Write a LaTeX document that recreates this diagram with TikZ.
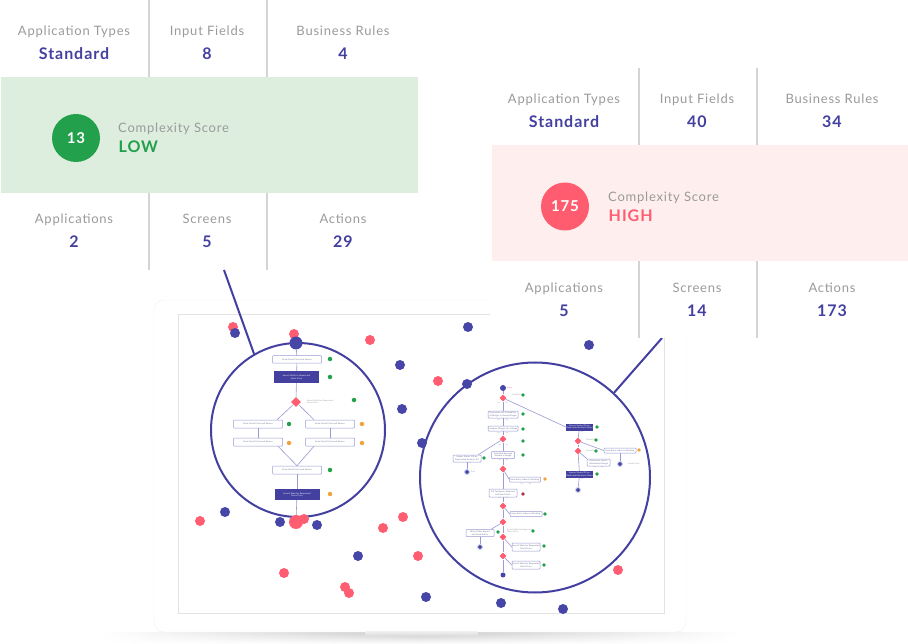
\documentclass[tikz,border=0pt]{standalone}
\usepackage{fontspec}
\setmainfont{Lato}[LetterSpace=6]
\usetikzlibrary{shapes.geometric,fadings}
\definecolor{navy}{HTML}{4340A0}
\definecolor{txtgray}{HTML}{9A9A9A}
\definecolor{divgray}{HTML}{D4D4D4}
\definecolor{okgreen}{HTML}{22A04B}
\definecolor{greenbg}{HTML}{DDEEDF}
\definecolor{hotred}{HTML}{FF5C70}
\definecolor{pinkbg}{HTML}{FFEEEE}
\definecolor{dotred}{HTML}{FF5D72}
\definecolor{dotblue}{HTML}{4646A8}
\definecolor{flowline}{HTML}{9A9AD4}
\definecolor{warnorange}{HTML}{F2A23A}
\definecolor{darkred}{HTML}{B03040}
\begin{document}
\begin{tikzpicture}[x=1pt,y=-1pt,
  lbl/.style={font=\fontsize{13}{13}\selectfont, text=txtgray, inner sep=0, anchor=base},
  val/.style={font=\fontsize{16}{16}\selectfont\bfseries, text=navy, inner sep=0, anchor=base},
  divider/.style={draw=divgray, line width=1.2},
  scorecirc/.style={circle, minimum size=48, inner sep=0, font=\fontsize{15}{15}\selectfont\bfseries, text=white},
  rdot/.style={circle, fill=dotred, minimum size=10, inner sep=0},
  bdot/.style={circle, fill=dotblue, minimum size=10, inner sep=0},
  lens/.style={circle, draw=navy, line width=2, fill=white, inner sep=0},
  pinline/.style={draw=navy, line width=2},
  fbox/.style={draw=flowline, line width=0.5, fill=white, rounded corners=0.8, inner sep=0, font=\fontsize{2.1}{2.5}\selectfont, text=flowline!70!black, align=center},
  fboxf/.style={fill=navy, inner sep=0, font=\fontsize{2.1}{2.5}\selectfont, text=white, align=center},
  fdia/.style={diamond, fill=hotred, minimum size=7, inner sep=0},
  gdot/.style={circle, fill=okgreen, minimum size=3.6, inner sep=0},
  odot/.style={circle, fill=warnorange, minimum size=3.6, inner sep=0},
  ddot/.style={circle, fill=darkred, minimum size=3.6, inner sep=0},
  enddot/.style={circle, fill=dotblue, draw=flowline!45, line width=0.9, minimum size=5, inner sep=0},
  flow/.style={draw=flowline, line width=0.6},
  tinytxt/.style={font=\fontsize{2}{2.4}\selectfont, text=txtgray, inner sep=0, align=left},
  yn/.style={font=\fontsize{1.6}{1.8}\selectfont, text=txtgray, inner sep=0}
]
\useasboundingbox (0,0) rectangle (908,644);

% ---------- laptop ----------
\shade[left color=white, right color=white, middle color=black!22, path fading=south] (100,632) rectangle (740,644);
\draw[draw=black!6, fill=white, rounded corners=10] (154,300) rectangle (686,632);
\shade[top color=black!6, bottom color=black!14, rounded corners=1.5] (365,631) rectangle (478,636);
\draw[draw=black!11, line width=0.8] (178,314) rectangle (664,613);

% ---------- lenses ----------
\node[lens, minimum size=174] (lensL) at (298,430) {};
\node[lens, minimum size=230] (lensR) at (535,477.5) {};

% ---------- scattered dots ----------
\foreach \p [count=\i] in {(233,327),(294,334),(370,340),(438,381),(200,521),(304,519),(403,517),(383,528),(418,556),(284,573),(345,587),(349,593),(618,570)}
  \node[rdot] (red\i) at \p {};
\foreach \p [count=\i] in {(235,333),(468,327),(400,365),(589,345),(402,409),(467,384),(422,443),(225,512),(280,522),(317,525),(358,556),(426,597),(501,603),(563,609)}
  \node[bdot] (blue\i) at \p {};

% ---------- left lens flowchart ----------
\node[bdot, minimum size=13] (Ls) at (296,343) {};
\node[fbox, minimum width=49, minimum height=7.5] (L1) at (297,359.5) {Enter Stock Price and Source};
\node[fboxf, minimum width=45, minimum height=12] (L2) at (296.5,377) {Search Web for Requested\\Stock Price};
\node[fdia, minimum size=10] (Ld) at (296,402) {};
\node[tinytxt, anchor=west] (Ldl) at (307,402) {Search Web for Requested\\Stock Price};
\node[fbox, minimum width=49, minimum height=8] (L3a) at (258,424) {Enter Stock Price and Source};
\node[fbox, minimum width=49, minimum height=8] (L3b) at (330,424) {Enter Stock Price and Source};
\node[fbox, minimum width=49, minimum height=8] (L4a) at (258,442) {Enter Stock Price and Source};
\node[fbox, minimum width=49, minimum height=8] (L4b) at (330,442) {Enter Stock Price and Source};
\node[fbox, minimum width=49, minimum height=8] (L5) at (297,470) {Enter Stock Price and Source};
\node[fboxf, minimum width=45, minimum height=11] (L6) at (297,494.5) {Search Web for Requested\\Stock Price};
\node[rdot, minimum size=14] (Le) at (296,522) {};
\node[gdot, minimum size=4.5] (Lg1) at (330,359) {};
\node[gdot, minimum size=4.5] (Lg2) at (330,377) {};
\node[gdot, minimum size=4.5] (Lg3) at (354,400) {};
\node[gdot, minimum size=4.5] (Lg4) at (289,424) {};
\node[odot, minimum size=4.5] (Lo1) at (362,424) {};
\node[odot, minimum size=4.5] (Lo2) at (289,443) {};
\node[odot, minimum size=4.5] (Lo3) at (362,443) {};
\node[gdot, minimum size=4.5] (Lg5) at (330,470) {};
\node[odot, minimum size=4.5] (Lo4) at (330,494) {};
\draw[flow] (Ls) -- (L1);
\draw[flow] (L1) -- (L2);
\draw[flow] (L2) -- (Ld);
\draw[flow] (Ld) -- ([xshift=19pt]L3a.north);
\draw[flow] (Ld) -- ([xshift=-16pt]L3b.north);
\draw[flow] (L3a) -- (L4a);
\draw[flow] (L3b) -- (L4b);
\draw[flow] ([xshift=20pt]L4a.south) -- (L5.north);
\draw[flow] ([xshift=-16pt]L4b.south) -- (L5.north);
\draw[flow] (L5) -- (L6);
\draw[flow] (L6) -- (Le);

% ---------- right lens flowchart ----------
\node[bdot, minimum size=6] (Rs) at (503,388) {};
\node[font=\fontsize{2}{2.4}\selectfont, text=hotred, inner sep=0, anchor=west] (Rsl) at (507,388) {Start};
\node[fdia] (Rd1) at (503,398) {};
\node[tinytxt, anchor=west] (Rd1l) at (512,395) {Grade Price};
\node[gdot] (Rg1) at (523,395) {};
\node[yn] (Rd1y) at (499,402.5) {Yes};
\node[yn] (Rd1n) at (507,402.5) {No};
\node[fbox, minimum width=30, minimum height=7] (Rb1) at (503,414.5) {Determine the Probability\\of Margin in Accept Range};
\node[gdot] (Rg2) at (523,414) {};
\node[yn] (Rb1y) at (498.5,420) {Yes};
\node[yn] (Rb1n) at (507,420) {No};
\node[fbox, minimum width=30, minimum height=5] (Rb2) at (503,428.5) {Compare Margin for a Range};
\node[gdot] (Rg3) at (523,429) {};
\node[yn] (Rb2y) at (498.5,433) {Yes};
\node[yn] (Rb2n) at (507,433) {No};
\node[fdia] (Rd2) at (503,439) {};
\node[gdot] (Rg4) at (523,441) {};
\node[yn] (Rd2y) at (500,445) {No};
\node[yn] (Rd2n) at (507,445) {Yes};
\node[fbox, minimum width=28, minimum height=7] (Rl1) at (467,458.5) {Assess Status OK on\\Duplicated Analysis Fit};
\node[gdot] (Rg5) at (484,458) {};
\node[yn] (Rl1y) at (470,463) {Yes};
\node[enddot] (Re1) at (467,472) {};
\node[tinytxt, anchor=west] (Re1l) at (471,472) {End};
\node[fbox, minimum width=23, minimum height=7] (Rb3) at (503,455) {Calculate Average\\Volume in Range};
\node[gdot] (Rg6) at (523,455) {};
\node[yn] (Rb3y) at (500,460) {Yes};
\node[yn] (Rb3n) at (507,460) {No};
\node[fdia] (Rd3) at (503,469) {};
\node[fbox, minimum width=31, minimum height=5] (Rb4) at (525,479.5) {Save Entry Index to Pending};
\node[odot] (Ro1) at (545,479) {};
\node[yn] (Rb4y) at (522,484) {Yes};
\node[yn] (Rb4n) at (530,484) {No};
\node[fbox, minimum width=28, minimum height=8] (Rb5) at (503,493) {Fill Top Spots, Selected\\and Send Links};
\node[ddot] (Rr0) at (523,494) {};
\node[yn] (Rb5y) at (500,498) {Yes};
\node[yn] (Rb5n) at (507,498) {No};
\node[fdia] (Rd4) at (503,506) {};
\node[fbox, minimum width=32, minimum height=5] (Rb6) at (526,514) {Save Entry Index to Pending};
\node[gdot] (Rg7) at (545,514) {};
\node[fdia] (Rd5) at (503,522) {};
\node[fbox, minimum width=28, minimum height=7] (Rl2) at (480,533) {Write Order Report\\and Send Alerts};
\node[gdot] (Rg8) at (498,532) {};
\node[enddot] (Re2) at (480,547) {};
\node[tinytxt, anchor=west] (Rd5l) at (507,531) {Search Web for Requested\\Stock Price};
\node[gdot] (Rg9) at (533,531) {};
\node[fdia] (Rd6) at (503,537) {};
\node[fbox, minimum width=28, minimum height=8] (Rb7) at (526,547) {Search Web for Requested\\Stock Price};
\node[gdot] (Rg10) at (544,546) {};
\node[fdia] (Rd7) at (503,556) {};
\node[fbox, minimum width=28, minimum height=8] (Rb8) at (526,565) {Search Web for Requested\\Stock Price};
\node[gdot] (Rg11) at (544,565) {};
\node[bdot, minimum size=5] (Re3) at (503,575) {};
% right column
\node[fboxf, minimum width=27, minimum height=7] (Rr1) at (579.5,427) {Assess Status OK on\\Duplicated Analysis Done};
\node[gdot] (Rg12) at (597,427) {};
\node[yn] (Rr1y) at (582,432) {Yes};
\node[fdia] (Rrd1) at (578,441) {};
\node[tinytxt, anchor=west] (Rrd1l) at (586,440) {Grade Price};
\node[gdot] (Rg13) at (596,440) {};
\node[fdia] (Rrd2) at (578,451) {};
\node[tinytxt, anchor=west] (Rrd2l) at (586,451) {Grade Price};
\node[gdot] (Rg14) at (596,451) {};
\node[fbox, minimum width=32, minimum height=5] (Rrb1) at (620,450.5) {Save Entry Index to Pending};
\node[odot] (Ro2) at (639,450) {};
\node[enddot] (Rre1) at (620,464) {};
\node[tinytxt, anchor=west] (Rre1l) at (628,464) {Grade Price};
\node[fbox, minimum width=23, minimum height=7] (Rrb2) at (598.5,462.5) {Determine Latest\\Information Range};
\node[yn] (Rrb2y) at (595,467) {Yes};
\node[yn] (Rrb2n) at (602,467) {No};
\node[fboxf, minimum width=27, minimum height=7] (Rr2) at (579.5,474.5) {Assess Status OK on\\Duplicated Analysis Done};
\node[gdot] (Rg15) at (597,474) {};
\node[yn] (Rr2y) at (582,479) {Yes};
\node[enddot] (Rre2) at (578,490) {};
% right edges
\draw[flow] (Rs) -- (Rd1);
\draw[flow] (Rd1) -- (Rb1);
\draw[flow] (Rb1) -- (Rb2);
\draw[flow] (Rb2) -- (Rd2);
\draw[flow] (Rd2) -- (Rb3);
\draw[flow] (Rb3) -- (Rd3);
\draw[flow] (Rd3) -- (Rb5);
\draw[flow] (Rb5) -- (Rd4);
\draw[flow] (Rd4) -- (Rd5);
\draw[flow] (Rd5) -- (Rd6);
\draw[flow] (Rd6) -- (Rd7);
\draw[flow] (Rd7) -- (Re3);
\draw[flow] (Rd1) -- (Rr1.west);
\draw[flow] (Rd2) -- ([xshift=-3pt]Rl1.north east);
\draw[flow] (Rl1) -- (Re1);
\draw[flow] (Rd3) -- (Rb4.west);
\draw[flow] (Rd4) -- (Rb6.west);
\draw[flow] (Rd5) -- ([xshift=-3pt]Rl2.north east);
\draw[flow] (Rl2) -- (Re2);
\draw[flow] (Rd6) -- (Rb7.west);
\draw[flow] (Rd7) -- (Rb8.west);
\draw[flow] (Rr1) -- (Rrd1);
\draw[flow] (Rrd1) -- (Rrd2);
\draw[flow] (Rrd1) -- (Rrb1.west);
\draw[flow] (Rrb1) -- (Rre1);
\draw[flow] (Rrd2) -- (Rrb2.north west);
\draw[flow] (Rrd2) -- (Rr2);
\draw[flow] (Rr2) -- (Rre2);

% ---------- pins to panels ----------
\coordinate (lpin) at (224,270);
\coordinate (rpin) at (662,338);
\draw[pinline] (lpin) -- (lensL.120);
\draw[pinline] (rpin) -- (lensR.47);

% ---------- left panel ----------
\fill[greenbg] (1,77) rectangle (418,193);
\draw[divider] (149,0) -- (149,77);
\draw[divider] (267,0) -- (267,77);
\draw[divider] (149,193) -- (149,270);
\draw[divider] (267,193) -- (267,270);
\node[lbl] (lat) at (74,35.5) {Application Types};
\node[val] (latv) at (74,59.5) {Standard};
\node[lbl] (lif) at (207,35.5) {Input Fields};
\node[val] (lifv) at (207,59.5) {8};
\node[lbl] (lbr) at (343,35.5) {Business Rules};
\node[val] (lbrv) at (343,59.5) {4};
\node[scorecirc, fill=okgreen] (lsc) at (76,138) {13};
\node[lbl, anchor=base west] (lcs) at (118,133) {Complexity Score};
\node[val, anchor=base west, text=okgreen] (llow) at (118.5,153) {LOW};
\node[lbl] (lap) at (74,224) {Applications};
\node[val] (lapv) at (74,248) {2};
\node[lbl] (lsr) at (207,224) {Screens};
\node[val] (lsrv) at (207,248) {5};
\node[lbl] (lac) at (343,224) {Actions};
\node[val] (lacv) at (343,248) {29};

% ---------- right panel ----------
\fill[white] (490,69) rectangle (908,338.5);
\begin{scope}[shift={(490,68.5)}]
\fill[pinkbg] (2,77) rectangle (418,193);
\draw[divider] (149,0) -- (149,77);
\draw[divider] (267,0) -- (267,77);
\draw[divider] (149,193) -- (149,270);
\draw[divider] (267,193) -- (267,270);
\node[lbl] (rat) at (74,35.5) {Application Types};
\node[val] (ratv) at (74,59.5) {Standard};
\node[lbl] (rif) at (207,35.5) {Input Fields};
\node[val] (rifv) at (207,59.5) {40};
\node[lbl] (rbr) at (342,35.5) {Business Rules};
\node[val] (rbrv) at (342,59.5) {34};
\node[scorecirc, fill=hotred] (rsc) at (75,138) {175};
\node[lbl, anchor=base west] (rcs) at (118,133) {Complexity Score};
\node[val, anchor=base west, text=hotred] (rhigh) at (118.5,153) {HIGH};
\node[lbl] (rap) at (74,224) {Applications};
\node[val] (rapv) at (74,248) {5};
\node[lbl] (rsr) at (207,224) {Screens};
\node[val] (rsrv) at (207,248) {14};
\node[lbl] (rac) at (342,224) {Actions};
\node[val] (racv) at (342,248) {173};
\end{scope}
\end{tikzpicture}
\end{document}
